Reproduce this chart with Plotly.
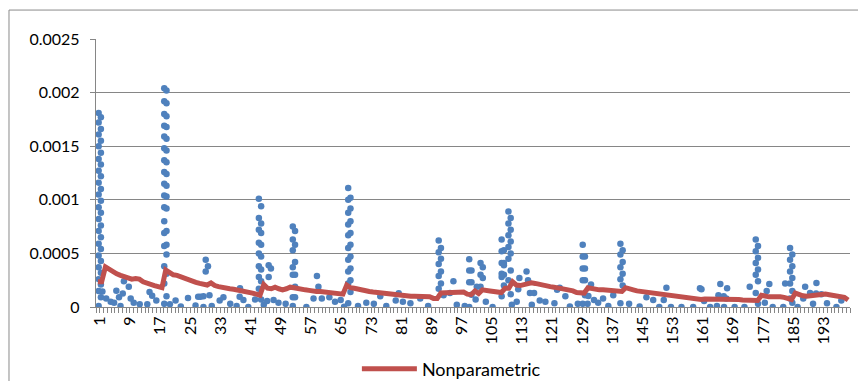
import plotly.graph_objects as go

SCALE = 1e-4  # values below are in units of 0.0001

# Nonparametric estimate, one value per category 1..200
categories = list(range(1, 201))
nonparam = [
    2.35, 2.35, 3.75, 3.5, 3.3, 3.1, 2.95, 2.85, 2.75, 2.6,
    2.65, 2.6, 2.35, 2.2, 2.1, 2.0, 1.9, 1.8, 3.45, 3.2,
    3.0, 2.95, 2.8, 2.65, 2.55, 2.45, 2.3, 2.2, 2.1, 2.05,
    2.25, 2.0, 1.9, 1.8, 1.75, 1.7, 1.65, 1.6, 1.5, 1.45,
    1.4, 1.3, 1.2, 1.1, 2.1, 1.75, 1.7, 1.85, 1.7, 1.6,
    1.7, 1.85, 1.8, 1.7, 1.65, 1.6, 1.55, 1.45, 1.45, 1.45,
    1.4, 1.4, 1.35, 1.3, 1.25, 1.2, 2.05, 1.8, 1.75, 1.65,
    1.6, 1.5, 1.45, 1.4, 1.35, 1.3, 1.25, 1.2, 1.15, 1.1,
    1.05, 1.05, 1.05, 1.0, 1.0, 1.0, 0.95, 0.95, 0.95, 0.8,
    0.8, 1.3, 1.3, 1.3, 1.35, 1.35, 1.3, 1.4, 1.2, 1.15,
    1.5, 1.25, 1.6, 1.6, 1.5, 1.45, 1.4, 1.35, 1.75, 1.75,
    2.35, 2.05, 2.0, 2.1, 2.2, 2.25, 2.2, 2.1, 2.0, 1.95,
    1.9, 1.85, 1.8, 1.75, 1.7, 1.6, 1.5, 1.35, 1.3, 1.3,
    1.8, 1.7, 1.65, 1.6, 1.6, 1.55, 1.5, 1.45, 1.4, 1.45,
    1.8, 1.65, 1.6, 1.5, 1.45, 1.4, 1.35, 1.3, 1.25, 1.2,
    1.15, 1.1, 1.05, 1.0, 0.95, 0.9, 0.85, 0.8, 0.75, 0.7,
    0.7, 0.75, 0.75, 0.75, 0.75, 0.75, 0.75, 0.8, 0.75, 0.7,
    0.7, 0.65, 0.65, 0.6, 0.55, 0.6, 1.1, 1.0, 0.95, 0.95,
    1.0, 0.95, 0.9, 0.85, 0.7, 1.3, 1.15, 1.05, 1.0, 1.05,
    1.1, 1.15, 1.2, 1.2, 1.15, 1.1, 1.05, 1.0, 0.9, 0.65,
]

# Observed points: dense spikes (position, values) and isolated points
spike_pos = [1.5, 18.9, 29.9, 44.0, 46.6, 53.0, 67.7, 91.7, 99.8, 102.8,
             108.4, 110.2, 129.9, 139.9, 175.8, 184.9]
spike_vals = [
    [18.1, 17.7, 17.2, 16.6, 16.1, 15.5, 15.0, 14.4, 13.8, 13.3, 12.7, 12.2,
     11.6, 11.0, 10.5, 9.9, 9.3, 8.8, 8.2, 7.6, 7.1, 6.5, 5.9, 5.4, 4.8, 4.3,
     3.7, 3.2, 2.6, 2.1, 1.5, 0.9, 0.1],
    [20.4, 20.2, 19.2, 19.0, 18.0, 17.8, 16.9, 16.8, 15.9, 15.7, 14.8, 14.6,
     13.7, 13.5, 12.6, 12.4, 11.5, 11.3, 10.4, 10.3, 9.3, 9.2, 8.0, 7.1, 6.9,
     5.8, 5.7, 4.9, 3.8, 3.1, 2.2, 1.0, 0.3],
    [4.4, 3.8, 3.3],
    [10.1, 9.4, 8.3, 7.8, 7.2, 6.9, 6.0, 5.8, 5.0, 4.7, 3.8, 3.5, 2.8, 2.4,
     1.7, 0.7],
    [3.9, 3.6, 2.8],
    [7.5, 7.1, 6.3, 5.8, 5.3, 4.2, 3.7, 3.0, 3.0, 1.9, 0.9, 0.9, 0.1],
    [11.1, 10.2, 10.0, 9.2, 8.8, 8.0, 7.7, 6.9, 6.7, 5.8, 5.5, 4.7, 4.4, 3.6,
     3.3, 2.5, 2.2, 1.4, 0.35],
    [6.2, 5.5, 5.1, 4.5, 4.0, 3.3, 2.9, 2.2, 1.7],
    [4.45, 3.4, 3.4, 2.3, 2.3, 1.15, 0.0],
    [4.1, 3.7, 3.0, 2.7, 1.9],
    [6.3, 5.3, 5.2, 4.1, 4.1, 3.9, 3.1, 3.0, 2.8, 2.0, 1.0],
    [8.9, 8.3, 7.8, 7.2, 6.7, 6.1, 5.6, 5.0, 4.5, 3.4, 2.5, 1.2],
    [5.8, 4.7, 4.7, 3.6, 3.6, 2.5, 2.5, 1.1, 0.3],
    [5.9, 5.3, 4.9, 4.2, 3.7, 3.1, 2.6, 2.0, 0.35],
    [6.3, 5.7, 5.2, 4.6, 4.1, 3.5, 3.0, 2.4, 1.3, 0.3],
    [5.5, 4.9, 4.4, 3.8, 3.3, 2.7, 2.2, 1.5, 0.8, 0.4],
]
point_x = [2.2, 3.2, 4.4, 5.3, 5.9, 6.6, 7.0, 7.6, 7.9, 9.2, 9.7, 10.5, 12.1,
           14.1, 14.7, 15.4, 16.5, 20.1, 21.6, 23.0, 24.9, 26.9, 27.6, 28.2,
           29.0, 29.0, 30.6, 31.2, 33.3, 34.3, 36.1, 37.8, 38.7, 38.6, 39.6,
           40.9, 42.7, 45.0, 45.9, 47.6, 48.9, 50.8, 56.3, 58.2, 59.1, 59.5,
           60.4, 62.4, 63.9, 65.4, 66.3, 70.0, 72.2, 74.2, 75.9, 77.5, 80.0,
           80.8, 81.9, 83.9, 86.5, 88.6, 92.7, 94.4, 95.3, 96.2, 98.3, 101.2,
           101.5, 103.9, 105.7, 110.8, 112.1, 112.5, 112.8, 114.7, 115.1,
           115.6, 116.1, 116.7, 118.2, 119.7, 122.1, 122.8, 123.5, 125.0,
           126.2, 128.3, 131.1, 131.8, 130.9, 132.6, 133.7, 135.0, 136.4,
           137.7, 141.9, 144.7, 146.5, 148.3, 149.9, 151.1, 151.8, 153.0,
           155.8, 158.9, 160.7, 161.1, 161.8, 163.4, 165.2, 165.6, 166.1,
           167.0, 167.1, 167.7, 167.9, 169.9, 172.5, 173.9, 177.9, 178.4,
           179.1, 180.0, 182.8, 183.3, 186.6, 188.1, 188.6, 189.9, 190.7,
           191.6, 191.5, 192.9, 194.4, 196.9, 198.2]
point_y = [1.44, 0.8, 0.5, 0.4, 1.52, 0.9, 0.1, 1.27, 2.4, 1.9, 0.8, 0.4, 0.25,
           0.25, 1.4, 1.05, 0.6, 0.25, 0.6, 0.05, 0.85, 0.15, 0.95, 0.95,
           0.0, 1.0, 1.1, 0.1, 0.6, 0.9, 0.3, 0.1, 1.75, 0.95, 0.65,
           0.0, 0.7, 0.2, 0.55, 0.65, 0.4, 0.3, 0.0, 0.8, 2.9, 1.9,
           0.8, 0.9, 0.5, 0.65, 0.03, 0.1, 0.4, 0.3, 1.0, 0.1, 0.6,
           1.28, 0.5, 0.35, 0.8, 0.1, 1.1, 1.3, 2.4, 0.2, 0.1, 0.7,
           1.9, 0.5, 0.0, 0.2, 0.5, 1.65, 2.7, 3.3, 2.5,
           1.3, 0.2, 1.3, 0.6, 0.5, 0.35, 1.6, 1.8, 1.0,
           0.05, 0.3, 1.03, 2.1, 0.3, 0.65, 0.4, 0.8, 0.1,
           1.1, 0.3, 0.04, 0.9, 0.65, 0.0, 0.65, 1.8, 0.0,
           0.0, 0.0, 1.75, 1.65, 0.55, 0.0, 0.1, 1.1, 2.15,
           1.0, 0.0, 0.8, 1.75, 0.0, 0.0, 1.9, 0.4, 1.5,
           2.15, 0.0, 0.0, 2.2, 0.0, 0.8, 1.9, 1.3, 0.3,
           2.25, 1.25, 1.2, 0.35, 0.0, 0.6]

x_tick_vals = list(range(1, 201, 8))
x_tick_text = [str(v) for v in x_tick_vals]
y_tick_vals = [0, 0.0005, 0.001, 0.0015, 0.002, 0.0025]
y_tick_text = ["0", "0.0005", "0.001", "0.0015", "0.002", "0.0025"]

dots_x, dots_y = [], []
for pos, vals in zip(spike_pos, spike_vals):
    for i, v in enumerate(vals):
        dots_x.append(pos + (0.3 if i % 2 else -0.3))
        dots_y.append(v * SCALE)
dots_x += point_x
dots_y += [v * SCALE for v in point_y]

FONT = "Lato, 'Open Sans', sans-serif"
GRID = "#868686"

fig = go.Figure()
fig.add_trace(go.Scatter(
    x=dots_x, y=dots_y, mode="markers", showlegend=False,
    marker=dict(color="#4F81BD", size=6.5, line=dict(width=0)),
))
fig.add_trace(go.Scatter(
    x=categories, y=[v * SCALE for v in nonparam], mode="lines",
    name="Nonparametric", line=dict(color="#C0504D", width=5),
))

# page body has an 8px margin, so the figure is 858x373 placed at (8, 8)
fig.update_layout(
    width=858, height=373,
    margin=dict(l=88, r=16, t=31, b=74, pad=0, autoexpand=False),
    paper_bgcolor="white", plot_bgcolor="white",
    font=dict(family=FONT, size=16, color="#000000"),
    showlegend=True,
    legend=dict(orientation="h", x=0.346, xanchor="left",
                yref="container", y=0.032, yanchor="middle",
                font=dict(family=FONT, size=18),
                bgcolor="rgba(0,0,0,0)", itemwidth=55,
                borderwidth=0),
    shapes=[dict(type="rect", xref="paper", yref="paper",
                 x0=-0.1154, x1=1.05, y0=-0.4, y1=1.108,
                 line=dict(color="#8A8A8A", width=1), layer="below")],
)
fig.update_xaxes(
    automargin=False,
    range=[0.5, 200.5], tickvals=x_tick_vals, ticktext=x_tick_text,
    tickangle=-90, ticks="", showgrid=False, zeroline=False,
    showline=True, linecolor=GRID, linewidth=1.3,
    tickfont=dict(family=FONT, size=16), ticklabelstandoff=2,
    ticklabelshift=2,
    minor=dict(ticks="outside", tick0=0.5, dtick=1, ticklen=5,
               tickcolor=GRID, tickwidth=1, showgrid=False),
)
fig.update_yaxes(
    automargin=False,
    range=[0, 0.0025], tickvals=y_tick_vals, ticktext=y_tick_text,
    ticks="outside", ticklen=5, tickcolor=GRID, tickwidth=1.3,
    ticklabelstandoff=7,
    showgrid=True, gridcolor=GRID, gridwidth=1.3, zeroline=False,
    showline=True, linecolor=GRID, linewidth=1.3,
    tickfont=dict(family=FONT, size=16),
)

fig.write_html("out.html")
